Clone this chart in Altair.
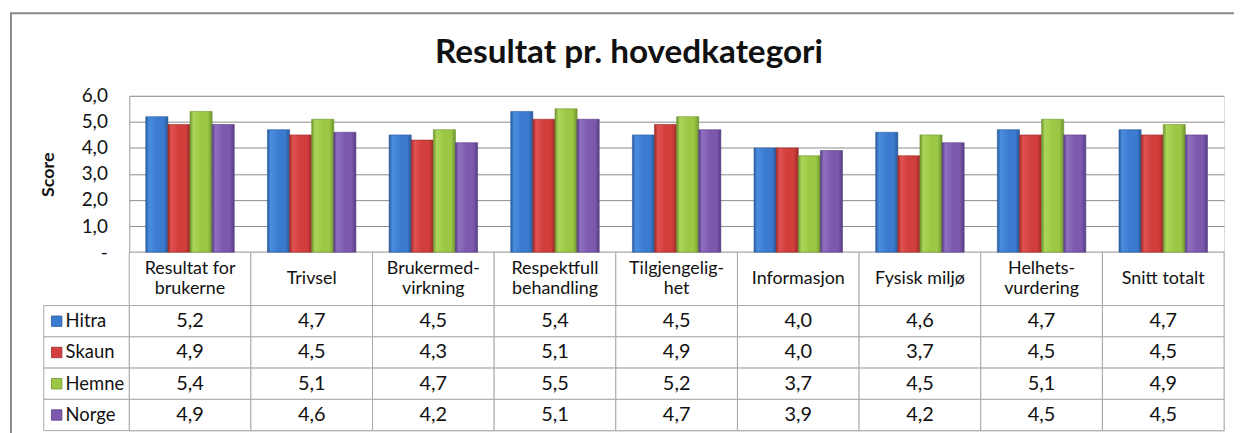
import altair as alt
import pandas as pd

# ---------------- data ----------------
categories = ["Resultat for brukerne", "Trivsel", "Brukermed-virkning",
              "Respektfull behandling", "Tilgjengelig-het", "Informasjon",
              "Fysisk miljø", "Helhets-vurdering", "Snitt totalt"]
header_labels = ["Resultat for\nbrukerne", "Trivsel", "Brukermed-\nvirkning",
                 "Respektfull\nbehandling", "Tilgjengelig-\nhet", "Informasjon",
                 "Fysisk miljø", "Helhets-\nvurdering", "Snitt totalt"]
series = ["Hitra", "Skaun", "Hemne", "Norge"]
hitra = [5.2, 4.7, 4.5, 5.4, 4.5, 4.0, 4.6, 4.7, 4.7]
skaun = [4.9, 4.5, 4.3, 5.1, 4.9, 4.0, 3.7, 4.5, 4.5]
hemne = [5.4, 5.1, 4.7, 5.5, 5.2, 3.7, 4.5, 5.1, 4.9]
norge = [4.9, 4.6, 4.2, 5.1, 4.7, 3.9, 4.2, 4.5, 4.5]
y_ticks = [0, 1, 2, 3, 4, 5, 6]
title_text = "Resultat pr. hovedkategori"

values_by_series = {"Hitra": hitra, "Skaun": skaun, "Hemne": hemne, "Norge": norge}
colors = {"Hitra": "#3b7bcf", "Skaun": "#d13e3c", "Hemne": "#9bc744", "Norge": "#7d59ae"}
darks = {"Hitra": "#285a9c", "Skaun": "#9c2a28", "Hemne": "#6e9430", "Norge": "#583d84"}
lights = {"Hitra": "#4a8ee0", "Skaun": "#e05250", "Hemne": "#acd65a", "Norge": "#9070c0"}

# table layout (in score units below the baseline)
HEADER_H = 2.05
ROW_H = 1.2
Y_MIN = -(HEADER_H + ROW_H * len(series))

W, H = 1102, 337
FONT = "Lato"
GRID = "#8c8c8c"
LINE = "#a8a8a8"
TXT = "#111111"

bars = pd.DataFrame([
    {"cat": c, "series": s, "value": v}
    for s in series for c, v in zip(categories, values_by_series[s])
])

row_top = {s: -HEADER_H - i * ROW_H for i, s in enumerate(series)}
cells = [{"cat": c, "top": 0.0, "bottom": -HEADER_H, "label": l}
         for c, l in zip(categories, header_labels)]
for s in series:
    for c in categories:
        cells.append({"cat": c, "top": row_top[s], "bottom": row_top[s] - ROW_H, "label": ""})
cells = pd.DataFrame(cells)
cells["mid"] = (cells["top"] + cells["bottom"]) / 2

table_vals = bars.copy()
table_vals["mid"] = table_vals["series"].map(lambda s: row_top[s] - ROW_H / 2)

rows = pd.DataFrame({"series": series,
                     "top": [row_top[s] for s in series],
                     "bottom": [row_top[s] - ROW_H for s in series]})
rows["mid"] = (rows["top"] + rows["bottom"]) / 2

xs = alt.Scale(domain=categories, paddingInner=0, paddingOuter=0)
ys = alt.Scale(domain=[Y_MIN, 6], nice=False, zero=False)
X = alt.X("cat:N", scale=xs, axis=None)

Y_AXIS = alt.Axis(values=y_ticks, grid=True, gridColor=GRID, gridWidth=1,
                  ticks=False, domain=True, domainColor=LINE, domainWidth=1,
                  labelExpr="datum.value == 0 ? '-' : replace(format(datum.value, '.1f'), '.', ',')",
                  labelFont=FONT, labelFontSize=19, labelColor=TXT,
                  labelPadding=22, titleFont=FONT, titleFontSize=18,
                  titleFontWeight="bold", titleColor=TXT,
                  titleX=-72, titleY=79, titleAngle=270)


def Y(field):
    return alt.Y(field, scale=ys, title="Score", axis=Y_AXIS)


# outer chart border
border = alt.Chart(alt.Data(values=[{"a": 1}])).mark_rect(
    fill=None, stroke="#8a8a8a", strokeWidth=2
).encode(x=alt.value(-119), x2=alt.value(W + 30), y=alt.value(-83), y2=alt.value(H + 30))

title = alt.Chart(alt.Data(values=[{"t": title_text}])).mark_text(
    font=FONT, fontSize=33.5, fontWeight="bold", color=TXT, align="center", baseline="alphabetic"
).encode(x=alt.value(503), y=alt.value(-33), text="t:N")

# table cells
cell_layer = alt.Chart(cells).mark_rect(fill="white", stroke=LINE, strokeWidth=1).encode(
    x=X, y=Y("top:Q"), y2="bottom:Q",
)
rowhead_layer = alt.Chart(rows).mark_rect(fill="white", stroke=LINE, strokeWidth=1).encode(
    x=alt.value(-86), x2=alt.value(0), y=Y("top:Q"), y2="bottom:Q",
)

bar_layers = []
for s in series:
    grad = alt.Gradient(
        gradient="linear", x1=0, x2=1, y1=0, y2=0,
        stops=[alt.GradientStop(color=darks[s], offset=0),
               alt.GradientStop(color=lights[s], offset=0.15),
               alt.GradientStop(color=colors[s], offset=0.5),
               alt.GradientStop(color=colors[s], offset=0.8),
               alt.GradientStop(color=darks[s], offset=1)])
    bar_layers.append(
        alt.Chart(bars).transform_filter(alt.datum.series == s).mark_bar(
            color=grad, stroke=darks[s], strokeWidth=0.6
        ).encode(
            x=X,
            xOffset=alt.XOffset("series:N", scale=alt.Scale(domain=series, paddingInner=0, paddingOuter=0.75)),
            y=Y("value:Q"),
        )
    )

header_src = cells[cells["label"] != ""]
header_one = alt.Chart(header_src).transform_filter(
    "indexof(datum.label, '\\n') < 0"
).mark_text(font=FONT, fontSize=18, color=TXT, baseline="middle").encode(
    x=X, y=Y("mid:Q"), text="label:N")
header_two = alt.Chart(header_src).transform_filter(
    "indexof(datum.label, '\\n') >= 0"
).mark_text(font=FONT, fontSize=18, color=TXT, lineBreak="\n", lineHeight=20,
            baseline="middle", dy=-10).encode(
    x=X, y=Y("mid:Q"), text="label:N")

value_text = alt.Chart(table_vals).transform_calculate(
    txt="replace(format(datum.value, '.1f'), '.', ',')"
).mark_text(font=FONT, fontSize=20, color=TXT, baseline="middle").encode(
    x=X, y=Y("mid:Q"), text="txt:N"
)

legend_sq = alt.Chart(rows).mark_square(size=110, opacity=1, strokeWidth=0.8).encode(
    x=alt.value(-73),
    y=Y("mid:Q"),
    fill=alt.Fill("series:N", scale=alt.Scale(domain=series, range=[colors[s] for s in series]), legend=None),
    stroke=alt.Stroke("series:N", scale=alt.Scale(domain=series, range=[darks[s] for s in series]), legend=None),
)
legend_txt = alt.Chart(rows).mark_text(font=FONT, fontSize=18.5, color=TXT, align="left", baseline="middle").encode(
    x=alt.value(-64),
    y=Y("mid:Q"),
    text="series:N",
)

chart = alt.layer(
    border, title, cell_layer, rowhead_layer, *bar_layers,
    header_one, header_two, value_text, legend_sq, legend_txt
).properties(
    width=W, height=H,
    autosize=alt.AutoSizeParams(type="none"),
    padding={"left": 122, "top": 87, "right": 10, "bottom": 1},
).configure_view(stroke=None).configure(background="white")

chart.save("out.html", embed_options={"renderer": "svg", "actions": False})
